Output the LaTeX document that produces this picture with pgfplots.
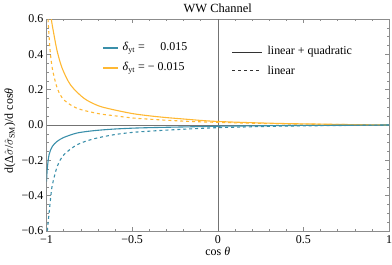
\documentclass[border=0pt]{standalone}
\usepackage{pgfplots}
\pgfplotsset{compat=1.18}
\usepackage{fontspec}
\setmainfont{Liberation Serif}
\definecolor{cblue}{RGB}{58,143,170}
\definecolor{corange}{RGB}{255,184,51}
\definecolor{frame}{RGB}{140,140,140}
\begin{document}
\fontsize{12}{14}\selectfont
\begin{tikzpicture}
\useasboundingbox (0bp,0bp) rectangle (392bp,265bp);
\begin{axis}[
  at={(46.5bp,34bp)}, anchor=south west,
  scale only axis, width=342.5bp, height=212bp,
  xmin=-1, xmax=1, ymin=-0.6, ymax=0.6,
  xtick={-1,-0.5,0,0.5,1},
  xticklabels={−1,−0.5,0,0.5,1},
  ytick={-0.6,-0.4,-0.2,0,0.2,0.4,0.6},
  yticklabels={−0.6,−0.4,−0.2,0.0,0.2,0.4,0.6},
  minor x tick num=4, minor y tick num=3,
  tick align=inside,
  major tick length=4bp, minor tick length=2.2bp,
  every tick/.style={frame, line width=0.4pt},
  axis line style={frame, line width=0.5pt},
  tick label style={font=\fontsize{12}{14}\selectfont},
  xticklabel style={yshift=-0.5bp},
  yticklabel style={xshift=1bp},
  title={WW Channel},
  title style={font=\fontsize{12.5}{14}\selectfont, yshift=-4bp},
  xlabel={cos \textit{θ}},
  ylabel={d(Δ$\hat{\sigma}$/$\hat{\sigma}$\textsubscript{SM})/d cos\textit{θ}},
  xlabel style={font=\fontsize{12}{14}\selectfont, yshift=5bp},
  ylabel style={font=\fontsize{12}{14}\selectfont, yshift=-2bp, xshift=-6bp},
  clip=true,
  ]
\addplot[draw=gray!90!black, line width=0.5pt, forget plot] coordinates {(-1,0)(1,0)};
\addplot[draw=gray!90!black, line width=0.5pt, forget plot] coordinates {(0,-0.6)(0,0.6)};
% orange solid
\addplot[corange, line width=1.1pt, smooth] coordinates {
(-0.985,0.72)(-0.972,0.6)(-0.956,0.509)(-0.937,0.415)(-0.908,0.32)(-0.859,0.226)(-0.781,0.151)(-0.7,0.11)(-0.625,0.09)(-0.5,0.065)(-0.4,0.052)(-0.3,0.042)(-0.2,0.034)(-0.1,0.026)(0,0.02)(0.2,0.013)(0.4,0.008)(0.6,0.005)(0.8,0.002)(1,0)};
% orange dashed
\addplot[corange, line width=1.1pt, dashed, smooth] coordinates {
(-0.996,0.7)(-0.991,0.6)(-0.98,0.434)(-0.966,0.32)(-0.937,0.208)(-0.898,0.142)(-0.82,0.094)(-0.7,0.065)(-0.625,0.055)(-0.5,0.04)(-0.4,0.033)(-0.3,0.027)(-0.2,0.022)(-0.1,0.018)(0,0.015)(0.2,0.01)(0.4,0.006)(0.6,0.004)(0.8,0.002)(1,0)};
% blue solid
\addplot[cblue, line width=1.1pt, smooth] coordinates {
(-1,-0.32)(-0.995,-0.243)(-0.985,-0.168)(-0.966,-0.121)(-0.937,-0.092)(-0.898,-0.07)(-0.82,-0.045)(-0.723,-0.032)(-0.606,-0.023)(-0.5,-0.018)(-0.4,-0.015)(-0.2,-0.011)(0,-0.007)(0.2,-0.005)(0.4,-0.003)(0.6,-0.002)(0.8,-0.001)(1,0)};
% blue dashed
\addplot[cblue, line width=1.1pt, dashed, smooth] coordinates {
(-0.998,-0.7)(-0.995,-0.6)(-0.985,-0.5)(-0.975,-0.405)(-0.966,-0.34)(-0.937,-0.234)(-0.898,-0.168)(-0.82,-0.111)(-0.723,-0.078)(-0.606,-0.055)(-0.5,-0.042)(-0.4,-0.035)(-0.3,-0.029)(-0.2,-0.024)(-0.1,-0.019)(0,-0.015)(0.2,-0.01)(0.4,-0.006)(0.6,-0.004)(0.8,-0.002)(1,0)};
% legends
\draw[cblue, line width=1.1pt] (rel axis cs:0.165,0.863) -- (rel axis cs:0.209,0.863);
\draw[corange, line width=1.1pt] (rel axis cs:0.165,0.769) -- (rel axis cs:0.209,0.769);
\node[anchor=west, inner sep=0pt] at (rel axis cs:0.222,0.863) {\textit{δ}\textsubscript{yt} =\hspace{1.3em}0.015};
\node[anchor=west, inner sep=0pt] at (rel axis cs:0.222,0.769) {\textit{δ}\textsubscript{yt} = − 0.015};
\draw[black!80, line width=1.1pt] (rel axis cs:0.542,0.844) -- (rel axis cs:0.629,0.844);
\draw[black!80, line width=1.1pt, dashed] (rel axis cs:0.542,0.759) -- (rel axis cs:0.629,0.759);
\node[anchor=west, inner sep=0pt] at (rel axis cs:0.645,0.844) {linear + quadratic};
\node[anchor=west, inner sep=0pt] at (rel axis cs:0.645,0.759) {linear};
\end{axis}
\end{tikzpicture}
\end{document}
